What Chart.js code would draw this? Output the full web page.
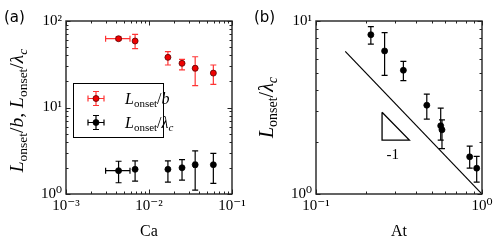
<!DOCTYPE html>
<html>
<head>
<meta charset="utf-8">
<script src="https://cdn.jsdelivr.net/npm/chart.js@4.4.1/dist/chart.umd.min.js"></script>
<style>
  html, body { margin: 0; padding: 0; background: #fff; }
  #wrap { position: relative; width: 499px; height: 241px; }
  canvas { position: absolute; top: 0; }
  #chartA { left: 0; }
  #chartB { left: 250px; }
</style>
</head>
<body>
<div id="wrap">
  <canvas id="chartA" width="250" height="241"></canvas>
  <canvas id="chartB" width="249" height="241"></canvas>
</div>
<script>
// ---- panel (a) data ----
const caValues = [0.0043, 0.0068, 0.0169, 0.025, 0.036, 0.0596];
const caErrLo  = [0.0030, 0.0068, 0.0169, 0.025, 0.0345, 0.0596];
const caErrHi  = [0.0059, 0.0068, 0.0169, 0.025, 0.0375, 0.0596];
const lenOverB   = [62.4, 58.7, 38, 32.4, 28.4, 25];
const lenOverBLo = [60, 47.9, 31, 27.2, 17.9, 18.5];
const lenOverBHi = [65.6, 70.2, 44.2, 36, 38.6, 31];
const lenOverLam   = [1.86, 1.93, 1.93, 2.01, 2.18, 2.18];
const lenOverLamLo = [1.35, 1.41, 1.37, 1.45, 1.11, 1.33];
const lenOverLamHi = [2.39, 2.41, 2.42, 2.5, 3.16, 2.95];

// ---- panel (b) data ----
const atValues = [0.214, 0.259, 0.336, 0.465, 0.564, 0.574, 0.843, 0.929];
const atLen    = [8.33, 6.71, 5.19, 3.26, 2.48, 2.35, 1.64, 1.41];
const atLenLo  = [7.36, 4.85, 4.52, 2.71, 2.05, 1.83, 1.41, 1.17];
const atLenHi  = [9.27, 8.56, 5.85, 3.78, 3.14, 2.68, 1.89, 1.65];
const guideAt  = [0.15, 1];
const guideLen = [6.67, 1];
const triAt    = [0.25, 0.25, 0.365, 0.25];
const triLen   = [2.97, 2.05, 2.05, 2.97];
const slopeText = { at: 0.29, len: 1.69, text: '-1' };

// ---- ticks ----
const ticksA_x = [0.001, 0.002, 0.003, 0.004, 0.005, 0.006, 0.007, 0.008, 0.009,
                  0.01, 0.02, 0.03, 0.04, 0.05, 0.06, 0.07, 0.08, 0.09, 0.1];
const ticksA_y = [1, 2, 3, 4, 5, 6, 7, 8, 9, 10, 20, 30, 40, 50, 60, 70, 80, 90, 100];
const ticksB_x = [0.1, 0.2, 0.3, 0.4, 0.5, 0.6, 0.7, 0.8, 0.9, 1];
const ticksB_y = [1, 2, 3, 4, 5, 6, 7, 8, 9, 10];
const majorLabels = { 0.001: '10⁻³', 0.01: '10⁻²', 0.1: '10⁻¹', 1: '10⁰', 10: '10¹', 100: '10²' };

const SERIF = '"Liberation Serif", "DejaVu Serif", serif';

function toPoints(xs, ys) {
  return xs.map((x, i) => ({ x: x, y: ys[i] }));
}

function majorLabel(v) {
  for (const k in majorLabels) {
    if (Math.abs(Number(k) - v) < 1e-9 * Math.max(1, v)) return majorLabels[k];
  }
  return '';
}

// math-ish text: parts = [text, style] with style r / i / s (subscript roman) / si
function mathWidth(ctx, parts, size, sub) {
  let w = 0;
  parts.forEach(p => {
    const isSub = p[1] === 's' || p[1] === 'si';
    const ital = p[1] === 'i' || p[1] === 'si';
    ctx.font = (ital ? 'italic ' : '') + (isSub ? sub : size) + 'px ' + SERIF;
    w += ctx.measureText(p[0]).width;
  });
  return w;
}

function drawMath(ctx, parts, x, y, size, sub) {
  ctx.textBaseline = 'alphabetic';
  ctx.textAlign = 'left';
  parts.forEach(p => {
    const isSub = p[1] === 's' || p[1] === 'si';
    const ital = p[1] === 'i' || p[1] === 'si';
    ctx.font = (ital ? 'italic ' : '') + (isSub ? sub : size) + 'px ' + SERIF;
    ctx.fillText(p[0], x, isSub ? y + size * 0.22 : y);
    x += ctx.measureText(p[0]).width;
  });
}

const labB = [['L', 'i'], ['onset', 's'], ['/', 'r'], ['b', 'i']];
const labLam = [['L', 'i'], ['onset', 's'], ['/', 'r'], ['λ', 'i'], ['c', 'si']];

// frame + inward ticks on all four sides
const framePlugin = {
  id: 'frame',
  afterDraw(chart) {
    const { ctx, chartArea: a } = chart;
    ctx.save();
    ctx.strokeStyle = '#222';
    ctx.lineWidth = 1;
    ['x', 'y'].forEach(id => {
      const s = chart.scales[id];
      s.ticks.forEach(t => {
        const major = majorLabel(t.value) !== '';
        const len = major ? 4.5 : 2.5;
        const p = Math.round(s.getPixelForValue(t.value)) + 0.5;
        ctx.beginPath();
        if (id === 'x') {
          ctx.moveTo(p, a.bottom); ctx.lineTo(p, a.bottom - len);
          ctx.moveTo(p, a.top); ctx.lineTo(p, a.top + len);
        } else {
          ctx.moveTo(a.left, p); ctx.lineTo(a.left + len, p);
          ctx.moveTo(a.right, p); ctx.lineTo(a.right - len, p);
        }
        ctx.stroke();
      });
    });
    ctx.lineWidth = 1.4;
    ctx.strokeRect(a.left, a.top, a.right - a.left, a.bottom - a.top);
    ctx.restore();
  }
};

// vertical / horizontal error bars drawn under the markers
function errorBarPlugin(sets) {
  return {
    id: 'errbars',
    beforeDatasetsDraw(chart) {
      const { ctx } = chart;
      const sx = chart.scales.x, sy = chart.scales.y;
      ctx.save();
      ctx.lineWidth = 1.2;
      sets.forEach(s => {
        ctx.strokeStyle = s.color;
        s.x.forEach((xv, i) => {
          const px = sx.getPixelForValue(xv);
          const py = sy.getPixelForValue(s.y[i]);
          const y0 = sy.getPixelForValue(s.yLo[i]);
          const y1 = sy.getPixelForValue(s.yHi[i]);
          ctx.beginPath();
          ctx.moveTo(px, y0); ctx.lineTo(px, y1);
          ctx.moveTo(px - 3, y0); ctx.lineTo(px + 3, y0);
          ctx.moveTo(px - 3, y1); ctx.lineTo(px + 3, y1);
          if (s.xLo && s.xLo[i] !== s.xHi[i]) {
            const x0 = sx.getPixelForValue(s.xLo[i]);
            const x1 = sx.getPixelForValue(s.xHi[i]);
            ctx.moveTo(x0, py); ctx.lineTo(x1, py);
            ctx.moveTo(x0, py - 3); ctx.lineTo(x0, py + 3);
            ctx.moveTo(x1, py - 3); ctx.lineTo(x1, py + 3);
          }
          ctx.stroke();
        });
      });
      ctx.restore();
    }
  };
}

function yTitlePlugin(parts, xBase, size, sub, shift) {
  return {
    id: 'ytitle',
    afterDraw(chart) {
      const { ctx, chartArea: a } = chart;
      ctx.save();
      ctx.fillStyle = '#000';
      const w = mathWidth(ctx, parts, size, sub);
      ctx.translate(xBase, (a.top + a.bottom) / 2 + shift);
      ctx.rotate(-Math.PI / 2);
      drawMath(ctx, parts, -w / 2, 0, size, sub);
      ctx.restore();
    }
  };
}

function panelLabelPlugin(text) {
  return {
    id: 'panel',
    afterDraw(chart) {
      const ctx = chart.ctx;
      ctx.save();
      ctx.fillStyle = '#000';
      ctx.font = '15px "DejaVu Sans", sans-serif';
      ctx.textBaseline = 'middle';
      ctx.textAlign = 'left';
      ctx.fillText(text, 4, 18);
      ctx.restore();
    }
  };
}

const legendPlugin = {
  id: 'mathLegend',
  afterDraw(chart) {
    const { ctx, chartArea: a } = chart;
    const bx = a.left + 7, by = a.top + 62, bw = 90, bh = 54;
    ctx.save();
    ctx.fillStyle = '#fff';
    ctx.fillRect(bx, by, bw, bh);
    ctx.strokeStyle = '#000';
    ctx.lineWidth = 1;
    ctx.strokeRect(bx + 0.5, by + 0.5, bw, bh);
    const rows = [
      { parts: labB, bar: 'rgba(255,0,0,0.8)', fill: '#ee0000', edge: '#5a0000', y: by + 15.5 },
      { parts: labLam, bar: '#000', fill: '#000', edge: '#000', y: by + 39.5 }
    ];
    rows.forEach(r => {
      const mx = bx + 23;
      ctx.strokeStyle = r.bar;
      ctx.lineWidth = 1.2;
      ctx.beginPath();
      ctx.moveTo(mx - 8, r.y); ctx.lineTo(mx + 8, r.y);
      ctx.moveTo(mx - 8, r.y - 3); ctx.lineTo(mx - 8, r.y + 3);
      ctx.moveTo(mx + 8, r.y - 3); ctx.lineTo(mx + 8, r.y + 3);
      ctx.moveTo(mx, r.y - 7); ctx.lineTo(mx, r.y + 7);
      ctx.moveTo(mx - 3, r.y - 7); ctx.lineTo(mx + 3, r.y - 7);
      ctx.moveTo(mx - 3, r.y + 7); ctx.lineTo(mx + 3, r.y + 7);
      ctx.stroke();
      ctx.beginPath();
      ctx.arc(mx, r.y, 3, 0, Math.PI * 2);
      ctx.fillStyle = r.fill;
      ctx.fill();
      ctx.strokeStyle = r.edge;
      ctx.lineWidth = 0.8;
      ctx.stroke();
      ctx.fillStyle = '#000';
      drawMath(ctx, r.parts, bx + 52, r.y + 5, 16, 11);
    });
    ctx.restore();
  }
};

const slopeLabelPlugin = {
  id: 'slopeLabel',
  afterDraw(chart) {
    const ctx = chart.ctx;
    ctx.save();
    ctx.fillStyle = '#000';
    ctx.font = '15px ' + SERIF;
    ctx.textAlign = 'center';
    ctx.textBaseline = 'middle';
    ctx.fillText(slopeText.text, chart.scales.x.getPixelForValue(slopeText.at),
                 chart.scales.y.getPixelForValue(slopeText.len));
    ctx.restore();
  }
};

function logAxis(min, max, tickList, title, isX) {
  return {
    type: 'logarithmic',
    min: min,
    max: max,
    grid: { display: false, drawTicks: false },
    border: { display: false },
    afterBuildTicks: s => { s.ticks = tickList.map(v => ({ value: v })); },
    afterFit: s => { if (isX) s.height = 47; else s.width = 66; },
    ticks: {
      autoSkip: false,
      maxRotation: 0,
      padding: isX ? 3 : 4,
      color: '#000',
      font: { family: SERIF, size: 15 },
      callback: v => majorLabel(v)
    },
    title: {
      display: !!title,
      text: title,
      color: '#000',
      padding: 0,
      font: { family: SERIF, size: 16, lineHeight: 1.2 }
    }
  };
}

const baseOptions = (right, xAxis, yAxis) => ({
  responsive: false,
  animation: false,
  layout: { padding: { left: 0, right: right, top: 21, bottom: 0 } },
  plugins: { legend: { display: false }, tooltip: { enabled: false } },
  scales: { x: xAxis, y: yAxis }
});

new Chart(document.getElementById('chartA'), {
  type: 'scatter',
  data: {
    datasets: [
      { data: toPoints(caValues, lenOverB), pointRadius: 3, pointBackgroundColor: '#ee0000',
        pointBorderColor: '#5a0000', pointBorderWidth: 0.8 },
      { data: toPoints(caValues, lenOverLam), pointRadius: 3, pointBackgroundColor: '#000',
        pointBorderColor: '#000', pointBorderWidth: 0.8 }
    ]
  },
  options: baseOptions(18, logAxis(0.001, 0.1, ticksA_x, 'Ca', true), logAxis(1, 100, ticksA_y, '', false)),
  plugins: [
    errorBarPlugin([
      { x: caValues, y: lenOverB, yLo: lenOverBLo, yHi: lenOverBHi, xLo: caErrLo, xHi: caErrHi, color: 'rgba(255,0,0,0.8)' },
      { x: caValues, y: lenOverLam, yLo: lenOverLamLo, yHi: lenOverLamHi, xLo: caErrLo, xHi: caErrHi, color: '#000' }
    ]),
    framePlugin, legendPlugin,
    yTitlePlugin([['L', 'i'], ['onset', 's'], ['/', 'r'], ['b', 'i'], [', ', 'r'],
                  ['L', 'i'], ['onset', 's'], ['/', 'r'], ['λ', 'i'], ['c', 'si']], 23, 19.5, 13.5, 3),
    panelLabelPlugin('(a)')
  ]
});

new Chart(document.getElementById('chartB'), {
  type: 'scatter',
  data: {
    datasets: [
      { data: toPoints(atValues, atLen), pointRadius: 3, pointBackgroundColor: '#000',
        pointBorderColor: '#000', pointBorderWidth: 0.8 },
      { type: 'line', data: toPoints(guideAt, guideLen), borderColor: '#000', borderWidth: 1.2,
        pointRadius: 0, fill: false },
      { type: 'line', data: toPoints(triAt, triLen), borderColor: '#000', borderWidth: 1.3,
        pointRadius: 0, fill: false }
    ]
  },
  options: baseOptions(17, logAxis(0.1, 1, ticksB_x, 'At', true), logAxis(1, 10, ticksB_y, '', false)),
  plugins: [
    errorBarPlugin([
      { x: atValues, y: atLen, yLo: atLenLo, yHi: atLenHi, color: '#000' }
    ]),
    framePlugin, slopeLabelPlugin,
    yTitlePlugin(labLam, 23, 20, 14, 0),
    panelLabelPlugin('(b)')
  ]
});
</script>
</body>
</html>
